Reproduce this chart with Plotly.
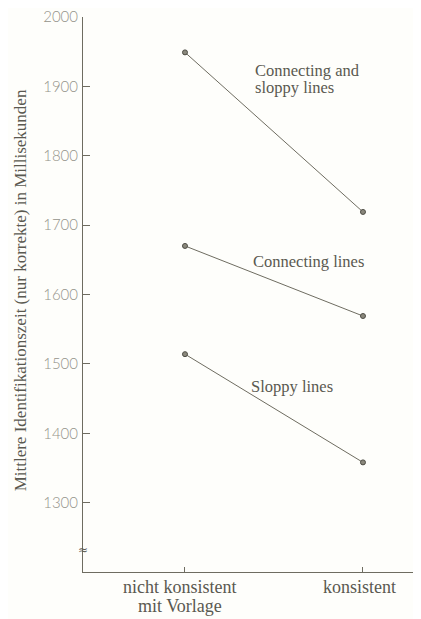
import plotly.graph_objects as go

categories = [["nicht konsistent", "mit Vorlage"], ["konsistent"]]
series_names = [["Connecting and", "sloppy lines"], ["Connecting lines"], ["Sloppy lines"]]
conn_sloppy = [1949, 1719]
connecting = [1670, 1569]
sloppy = [1514, 1358]
y_ticks = [1300, 1400, 1500, 1600, 1700, 1800, 1900, 2000]
y_title = "Mittlere Identifikationszeit (nur korrekte) in Millisekunden"

line_col = "#6e6c60"
text_col = "#5a5950"
serif = "Liberation Serif, Times New Roman, serif"

# page body has an 8px margin; compensate
OFF = 8
W, H = 421 - OFF, 619 - OFF
L, R, T = 83 - OFF, 0, 17 - OFF
B = H - (572 - OFF)
pw = W - L - R
ph = H - T - B

fig = go.Figure()
xs = [0, 1]
for vals in [conn_sloppy, connecting, sloppy]:
    fig.add_trace(go.Scatter(
        x=xs, y=vals, mode="lines+markers",
        line=dict(color=line_col, width=1),
        marker=dict(size=5, color="#8a887c", line=dict(color="#4e4d45", width=1)),
        showlegend=False, hoverinfo="skip"))

# series labels (one annotation per text line)
label_pos = [(0.388, [1923, 1899]), (0.376, [1647]), (0.365, [1468])]
for lines, (lx, lys) in zip(series_names, label_pos):
    for txt, ly in zip(lines, lys):
        fig.add_annotation(x=lx, y=ly, xref="x", yref="y", text=txt, showarrow=False,
                           xanchor="left", yanchor="middle", align="left", borderpad=0,
                           font=dict(family=serif, size=16.5, color=text_col))

# category labels
cat_xshift = [-5, -3]
line_yshift = [-15, -34]
for cx, lines, xsft in zip(xs, categories, cat_xshift):
    for txt, ysft in zip(lines, line_yshift):
        fig.add_annotation(x=cx, y=0, xref="x", yref="paper", text=txt, showarrow=False,
                           xanchor="center", yanchor="middle", xshift=xsft, yshift=ysft,
                           borderpad=0,
                           font=dict(family=serif, size=18, color=text_col))

# y title
fig.add_annotation(x=(20 - OFF - L) / pw, y=1606, xref="paper", yref="y",
                   text=y_title, textangle=-90, showarrow=False,
                   xanchor="center", yanchor="middle",
                   font=dict(family=serif, size=17, color=text_col))

# axis break symbol
fig.add_annotation(x=0, y=(1232 - 1200) / 800, xref="paper", yref="paper", text="≈",
                   showarrow=False, xanchor="center", yanchor="middle",
                   font=dict(family="DejaVu Sans", size=12, color=text_col))

fig.update_layout(
    width=W, height=H,
    margin=dict(l=L, r=R, t=T, b=B),
    paper_bgcolor="#fefefb", plot_bgcolor="#fefefb",
    xaxis=dict(
        range=[-0.573, 1.326], tickvals=xs, ticktext=["", ""], automargin=False,
        showgrid=False, zeroline=False, showline=True, linecolor=line_col, linewidth=1,
        ticks="inside", ticklen=5, tickcolor=line_col),
    yaxis=dict(
        range=[1200, 2000], tickvals=y_ticks, automargin=False,
        ticklabeloverflow="allow",
        showgrid=False, zeroline=False, showline=True, linecolor=line_col, linewidth=1,
        ticks="inside", ticklen=7, tickcolor=line_col, ticklabelstandoff=1,
        tickfont=dict(family="Lato, DejaVu Sans, sans-serif", size=15, weight=300,
                      color="#94938a")),
)

fig.write_html("out.html")
